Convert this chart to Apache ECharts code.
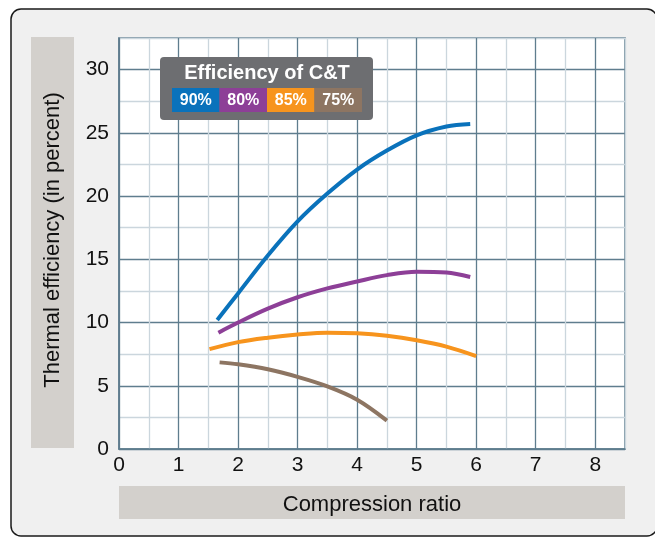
<!DOCTYPE html>
<html>
<head>
<meta charset="utf-8">
<script src="https://cdn.jsdelivr.net/npm/echarts@6/dist/echarts.min.js"></script>
<style>
  html, body { margin: 0; padding: 0; background: #fff; }
  #chart { width: 655px; height: 537px; }
</style>
</head>
<body>
<div id="chart"></div>
<script>
// values: [compression ratio, thermal efficiency %]
const seriesNames = ['90%', '80%', '85%', '75%'];
const seriesColors = ['#0a72bb', '#8d3f97', '#f7941d', '#8d7562'];
const eff90 = [[1.65, 10.2], [2, 12.3], [2.5, 15.3], [3, 18.0], [3.5, 20.2], [4, 22.1], [4.5, 23.6], [5, 24.8], [5.5, 25.5], [5.9, 25.7]];
const eff80 = [[1.67, 9.2], [2, 10.0], [2.5, 11.1], [3, 12.0], [3.5, 12.7], [4, 13.25], [4.5, 13.75], [5, 14.02], [5.5, 13.95], [5.9, 13.6]];
const eff85 = [[1.52, 7.9], [2, 8.45], [2.5, 8.8], [3, 9.05], [3.5, 9.2], [4, 9.15], [4.5, 8.95], [5, 8.6], [5.5, 8.1], [6, 7.35]];
const eff75 = [[1.69, 6.85], [2, 6.7], [2.5, 6.3], [3, 5.7], [3.5, 4.95], [4, 3.9], [4.5, 2.25]];
const allData = [eff90, eff80, eff85, eff75];

const font = '"Liberation Sans", Arial, sans-serif';
const major = '#5f7d8e';
const minor = '#cbd6dd';

const chart = echarts.init(document.getElementById('chart'));

// legend swatches "Efficiency of C&T"
const swatches = [];
seriesNames.forEach((name, i) => {
    swatches.push({
        type: 'rect', z: 100,
        shape: { x: 172 + i * 47.5, y: 88, width: 47.5, height: 24 },
        style: { fill: seriesColors[i] }
    });
    swatches.push({
        type: 'text', z: 101,
        x: 172 + i * 47.5 + 23.75, y: 100.5,
        style: { text: name, fill: '#fff', font: 'bold 16px ' + font, align: 'center', verticalAlign: 'middle' }
    });
});

const option = {
    animation: false,
    backgroundColor: '#fff',
    grid: {
        left: 119, top: 38, right: 30, bottom: 88,
        show: true, backgroundColor: '#fff', borderColor: major, borderWidth: 1.5
    },
    xAxis: {
        type: 'value', min: 0, max: 8.5, interval: 0.5,
        axisLine: { show: true, lineStyle: { color: major, width: 1.5 } },
        axisTick: { show: false },
        axisLabel: {
            margin: 6, color: '#111', fontSize: 21, fontFamily: font,
            formatter: v => (v % 1 === 0 ? String(v) : '')
        },
        splitLine: { show: true, lineStyle: { color: [major, minor], width: 1.3 } }
    },
    yAxis: {
        type: 'value', min: 0, max: 32.5, interval: 2.5,
        axisLine: { show: true, lineStyle: { color: major, width: 1.5 } },
        axisTick: { show: false },
        axisLabel: {
            margin: 10, color: '#111', fontSize: 21, fontFamily: font,
            formatter: v => (v % 5 === 0 ? String(v) : '')
        },
        splitLine: { show: true, lineStyle: { color: [major, minor], width: 1.3 } }
    },
    series: allData.map((d, i) => ({
        name: seriesNames[i],
        type: 'line',
        data: d,
        smooth: 0.35,
        showSymbol: false,
        symbol: 'none',
        lineStyle: { color: seriesColors[i], width: 4, cap: 'butt' },
        z: 10
    })),
    graphic: [
        // outer panel
        { type: 'rect', z: -10, shape: { x: 11, y: 9, width: 646, height: 527, r: 10 },
          style: { fill: '#f0f0f0', stroke: '#1a1a1a', lineWidth: 1.5 } },
        // y-axis name band
        { type: 'rect', z: -5, shape: { x: 31, y: 37, width: 43, height: 411 }, style: { fill: '#d3d0cc' } },
        { type: 'text', z: -4, x: 53, y: 240, rotation: Math.PI / 2,
          style: { text: 'Thermal efficiency (in percent)', fill: '#111', font: '22px ' + font, align: 'center', verticalAlign: 'middle' } },
        // x-axis name band
        { type: 'rect', z: -5, shape: { x: 119, y: 486, width: 506, height: 33 }, style: { fill: '#d3d0cc' } },
        { type: 'text', z: -4, x: 372, y: 505,
          style: { text: 'Compression ratio', fill: '#111', font: '22px ' + font, align: 'center', verticalAlign: 'middle' } },
        // legend box
        { type: 'rect', z: 99, shape: { x: 160, y: 57, width: 213, height: 63, r: 4 }, style: { fill: '#6d6e71' } },
        { type: 'text', z: 101, x: 267, y: 73,
          style: { text: 'Efficiency of C&T', fill: '#fff', font: 'bold 20px ' + font, align: 'center', verticalAlign: 'middle' } }
    ].concat(swatches)
};

chart.setOption(option);
</script>
</body>
</html>
